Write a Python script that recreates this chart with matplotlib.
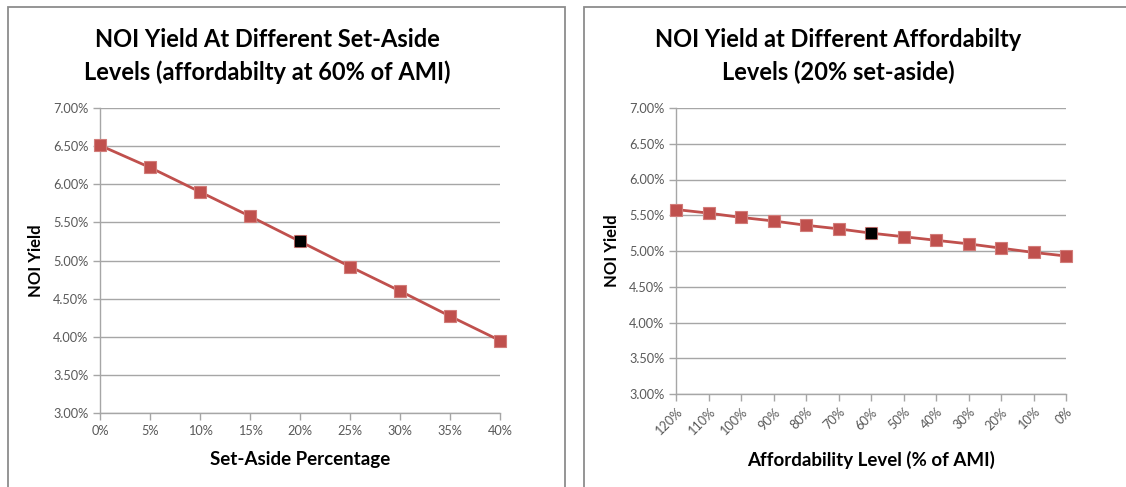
import matplotlib
matplotlib.use("Agg")
import matplotlib.pyplot as plt
from matplotlib.patches import Rectangle
from matplotlib.ticker import FuncFormatter, MultipleLocator

# Left chart: yield vs. set-aside share (affordability at 60% of AMI)
set_aside_pct = [0, 5, 10, 15, 20, 25, 30, 35, 40]
set_aside_yield = [6.51, 6.22, 5.90, 5.58, 5.25, 4.92, 4.60, 4.27, 3.95]
set_aside_highlight = 20

# Right chart: yield vs. affordability level (20% set-aside)
afford_labels = ["120%", "110%", "100%", "90%", "80%", "70%", "60%",
                 "50%", "40%", "30%", "20%", "10%", "0%"]
afford_yield = [5.58, 5.53, 5.47, 5.42, 5.36, 5.31, 5.25,
                5.20, 5.15, 5.10, 5.04, 4.98, 4.93]
afford_highlight = "60%"

W, H = 1126, 487
fig = plt.figure(figsize=(W / 100, H / 100), dpi=100)
fig.patch.set_facecolor("white")

FONT = ["Lato", "DejaVu Sans"]
RED = "#C0504D"
GRID = "#A6A6A6"
TICKC = "#595959"


def px_box(x0, y_top, x1, y_bot):
    return [x0 / W, 1 - y_bot / H, (x1 - x0) / W, (y_bot - y_top) / H]


# panel frames
for x0, x1 in [(8, 565), (584, 1140)]:
    fig.patches.append(Rectangle((x0 / W, -0.05), (x1 - x0) / W, 1.05 - 7 / H,
                                 transform=fig.transFigure, fill=False,
                                 edgecolor="#8C8C8C", linewidth=1.3))


def style_axes(ax):
    ax.set_ylim(3.0, 7.0)
    ax.yaxis.set_major_locator(MultipleLocator(0.5))
    ax.yaxis.set_major_formatter(FuncFormatter(lambda v, p: f"{v:.2f}%"))
    ax.grid(axis="y", color=GRID, linewidth=1.0)
    ax.set_axisbelow(True)
    for s in ["top", "right"]:
        ax.spines[s].set_visible(False)
    for s in ["left", "bottom"]:
        ax.spines[s].set_color(GRID)
        ax.spines[s].set_linewidth(1.0)
    ax.tick_params(axis="both", colors=GRID, labelcolor=TICKC, length=5,
                   width=1.0, labelsize=9.2, direction="out")
    for lab in ax.get_yticklabels() + ax.get_xticklabels():
        lab.set_family(FONT)


def draw_series(ax, xs, ys, hi):
    ax.plot(xs, ys, color=RED, linewidth=2.0,
            marker="s", markersize=9, markerfacecolor=RED,
            markeredgecolor="#D27C79", markeredgewidth=0.8,
            clip_on=False, zorder=3)
    ax.plot([xs[hi]], [ys[hi]], linestyle="none",
            marker="s", markersize=7, color="black", clip_on=False, zorder=4)


# ---- left chart
ax1 = fig.add_axes(px_box(100, 108, 500, 413))
draw_series(ax1, set_aside_pct, set_aside_yield,
            set_aside_pct.index(set_aside_highlight))
ax1.set_xlim(0, 40)
ax1.set_xticks(set_aside_pct)
ax1.xaxis.set_major_formatter(FuncFormatter(lambda v, p: f"{v:.0f}%"))
style_axes(ax1)
ax1.set_xlabel("Set-Aside Percentage", fontsize=13.5, fontweight="bold",
               family=FONT, labelpad=10)
ax1.set_ylabel("NOI Yield", fontsize=12, fontweight="bold", family=FONT,
               labelpad=6)
fig.text(267 / W, 1 - 47 / H, "NOI Yield At Different Set-Aside",
         ha="center", va="baseline", fontsize=17, fontweight="bold", family=FONT)
fig.text(267 / W, 1 - 80 / H, "Levels (affordabilty at 60% of AMI)",
         ha="center", va="baseline", fontsize=17, fontweight="bold", family=FONT)

# ---- right chart
ax2 = fig.add_axes(px_box(676, 108, 1066, 394))
xs = list(range(len(afford_labels)))
draw_series(ax2, xs, afford_yield, afford_labels.index(afford_highlight))
ax2.set_xlim(0, len(xs) - 1)
ax2.set_xticks(xs)
ax2.set_xticklabels(afford_labels)
style_axes(ax2)
for lab in ax2.get_xticklabels():
    lab.set_rotation(45)
    lab.set_ha("right")
    lab.set_va("top")
    lab.set_rotation_mode("anchor")
ax2.set_xlabel("Affordability Level (% of AMI)", fontsize=13.5,
               fontweight="bold", family=FONT, labelpad=10)
ax2.set_ylabel("NOI Yield", fontsize=12, fontweight="bold", family=FONT,
               labelpad=6)
fig.text(838 / W, 1 - 47 / H, "NOI Yield at Different Affordabilty",
         ha="center", va="baseline", fontsize=17, fontweight="bold", family=FONT)
fig.text(838 / W, 1 - 80 / H, "Levels (20% set-aside)",
         ha="center", va="baseline", fontsize=17, fontweight="bold", family=FONT)

fig.savefig("out.png", dpi=100)
